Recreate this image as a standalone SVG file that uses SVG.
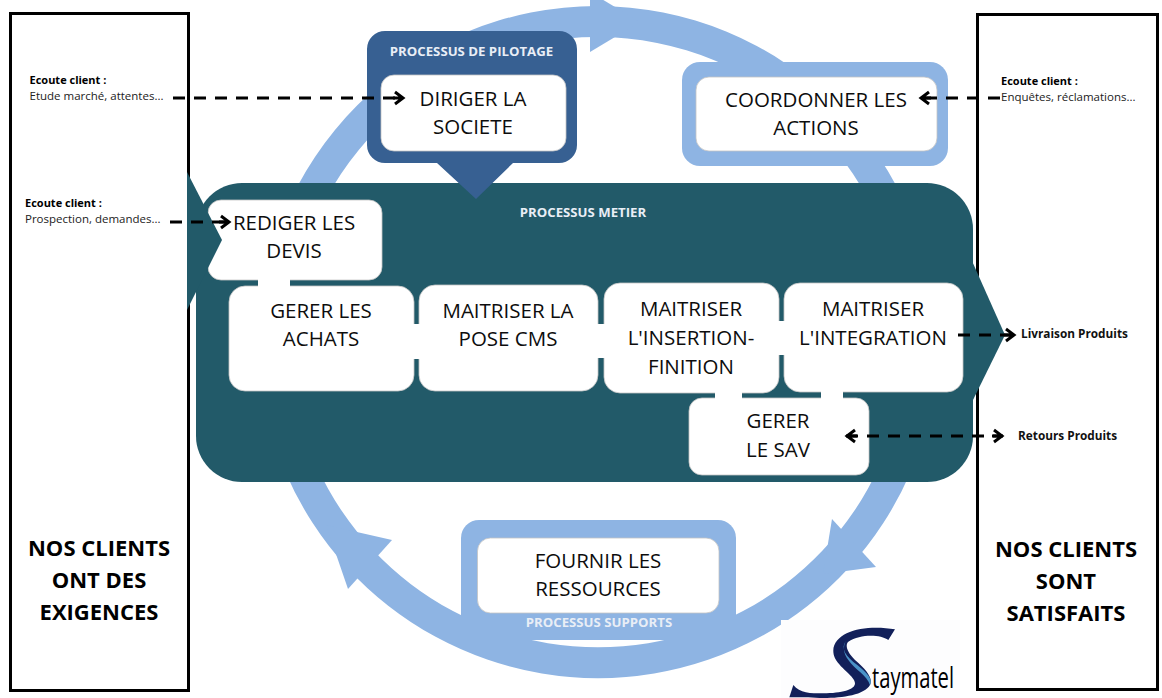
<svg xmlns="http://www.w3.org/2000/svg" width="1162" height="698" viewBox="0 0 1162 698">
<style>
text{font-family:"Open Sans","Noto Sans","Liberation Sans",sans-serif;fill:#000}
.n{font-size:20.5px;text-anchor:middle;fill:#0d0d0d}
.h{font-size:22px;font-weight:700;text-anchor:middle}
.w{font-size:13.2px;font-weight:700;text-anchor:middle;fill:#e9eef6}
.b{font-size:11px;font-weight:700}
.s{font-size:11.5px;fill:#222}
.o{font-size:11.8px;font-weight:700;fill:#111}
.ring{fill:#8eb4e3}
.teal{fill:#225a69}
.wb{fill:#fff;stroke:#c4c4c4;stroke-width:.8}
.side{fill:#fff;stroke:#000;stroke-width:3}
.d{fill:none;stroke:#000;stroke-width:3;stroke-dasharray:12 9;marker-end:url(#a)}
</style>
<defs>
<marker id="a" markerUnits="userSpaceOnUse" markerWidth="16" markerHeight="18" refX="13" refY="9" orient="auto-start-reverse">
<path d="M4,3 L12,9 L4,15 M2,9 H12" fill="none" stroke="#000" stroke-width="3"/>
</marker>
</defs>
<g id="cycle">
<path class="ring" d="M258,345 A339,339 0 0 1 936,345 L905,345 A308,308 0 0 0 289,345 Z"/>
<path class="ring" d="M268,420 A340,340 0 0 0 928,420 L896,420 A309,309 0 0 1 300,420 Z"/>
<polygon class="ring" points="590,-8 640,22 590,52"/>
<polygon class="ring" points="392,540 326,525 348,589"/>
<polygon class="ring" points="832,519 876,567 823,574"/>
</g>
<g id="clients-exigences">
<rect class="side" x="10.500" y="13.500" width="178" height="677"/>
<text class="h" x="99" y="556">NOS CLIENTS</text>
<text class="h" x="99" y="588">ONT DES</text>
<text class="h" x="99" y="620">EXIGENCES</text>
<text class="b" x="29.500" y="84">Ecoute client :</text>
<text class="s" x="29.500" y="100">Etude marché, attentes...</text>
<text class="b" x="25" y="207">Ecoute client :</text>
<text class="s" x="25" y="223">Prospection, demandes...</text>
</g>
<g id="clients-satisfaits">
<rect class="side" x="977.500" y="14.500" width="180" height="675"/>
<text class="h" x="1066" y="557">NOS CLIENTS</text>
<text class="h" x="1066" y="589">SONT</text>
<text class="h" x="1066" y="621">SATISFAITS</text>
<text class="b" x="1001" y="85">Ecoute client :</text>
<text class="s" x="1001" y="101">Enquêtes, réclamations...</text>
<text class="o" x="1021" y="338">Livraison Produits</text>
<text class="o" x="1018" y="440">Retours Produits</text>
</g>
<g id="processus-metier">
<rect class="teal" x="196" y="183" width="777" height="299" rx="46"/>
<polygon class="teal" points="972,261 1005,335 972,402"/>
<text class="w" x="583" y="217">PROCESSUS METIER</text>
</g>
<g id="pilotage">
<path d="M385,31 H559 A18,18 0 0 1 577,49 V145 A18,18 0 0 1 559,163 H513 L476,199 L437,163 H385 A18,18 0 0 1 367,145 V49 A18,18 0 0 1 385,31 Z" fill="#376092"/>
<text class="w" x="471.500" y="56">PROCESSUS DE PILOTAGE</text>
<rect class="wb" x="381" y="75" width="185" height="76" rx="13"/>
<text class="n" x="473" y="106">DIRIGER LA</text>
<text class="n" x="473" y="134">SOCIETE</text>
</g>
<g id="coordonner">
<rect class="ring" x="682" y="62" width="266" height="104" rx="18"/>
<rect class="wb" x="696" y="77" width="241" height="74" rx="13"/>
<text class="n" x="816" y="107">COORDONNER LES</text>
<text class="n" x="816" y="135">ACTIONS</text>
</g>
<g id="supports">
<path class="ring" d="M461,640 V538 A18,18 0 0 1 479,520 H718 A18,18 0 0 1 736,538 V640 Z"/>
<rect class="wb" x="477.500" y="538" width="241.500" height="75" rx="13"/>
<text class="n" x="598" y="568">FOURNIR LES</text>
<text class="n" x="598" y="596">RESSOURCES</text>
<text class="w" x="599" y="627">PROCESSUS SUPPORTS</text>
</g>
<g id="devis">
<rect class="wb" x="208" y="200" width="174" height="80" rx="13"/>
<polygon class="teal" points="187,172 222,240 187,310"/>
<text class="n" x="294" y="230">REDIGER LES</text>
<text class="n" x="294" y="258">DEVIS</text>
</g>
<g id="achats">
<rect class="wb" x="229" y="286" width="185" height="105" rx="16"/>
<rect x="258" y="279" width="32" height="9" fill="#fff"/>
<rect x="413" y="324" width="7" height="35" fill="#fff"/>
<text class="n" x="321" y="318">GERER LES</text>
<text class="n" x="321" y="346">ACHATS</text>
</g>
<g id="pose">
<rect class="wb" x="419" y="285" width="179" height="106" rx="16"/>
<rect x="413" y="324" width="7" height="35" fill="#fff"/>
<rect x="597" y="324" width="8" height="34" fill="#fff"/>
<text class="n" x="508" y="318">MAITRISER LA</text>
<text class="n" x="508" y="346">POSE CMS</text>
</g>
<g id="insertion">
<rect class="wb" x="604" y="283" width="175" height="110" rx="16"/>
<rect x="597" y="324" width="8" height="34" fill="#fff"/>
<text class="n" x="691" y="316">MAITRISER</text>
<text class="n" x="691" y="345">L'INSERTION-</text>
<text class="n" x="691" y="374">FINITION</text>
</g>
<g id="integration">
<rect class="wb" x="784" y="283" width="179" height="109" rx="16"/>
<rect x="778" y="321" width="7" height="34" fill="#fff"/>
<text class="n" x="873" y="316">MAITRISER</text>
<text class="n" x="873" y="345">L'INTEGRATION</text>
</g>
<g id="sav">
<rect class="wb" x="689" y="398" width="180" height="77" rx="13"/>
<rect x="715" y="392" width="27" height="8" fill="#fff"/>
<rect x="821" y="391" width="22" height="9" fill="#fff"/>
<text class="n" x="778" y="428">GERER</text>
<text class="n" x="778" y="457">LE SAV</text>
</g>
<g id="connectors">
<path class="d" d="M173,98 H404"/>
<path class="d" d="M1000,98 H920"/>
<path class="d" d="M170,222 H230"/>
<path class="d" d="M958,335 H1015"/>
<path class="d" style="marker-start:url(#a)" d="M846,436 H1003"/>
</g>
<g id="logo">
<rect x="781" y="620" width="179" height="78" fill="#fdfdfe"/>
<g transform="translate(780,610) scale(.3333)">
<path fill="#12205a" d="M345,58 L325,90 C300,72 240,72 205,95 C195,105 200,125 225,150 C260,180 280,205 270,225 C250,262 150,268 85,262 L28,262 L40,225 C60,250 90,250 130,250 C185,250 225,240 225,220 C225,200 185,180 165,145 C150,110 170,85 200,70 C240,50 300,50 345,58 Z"/>
<path fill="#4a93c8" d="M198,92 C180,115 198,140 232,165 C262,190 280,208 270,226 C262,195 225,180 205,150 C190,130 188,110 198,92 Z"/>
</g>
<text x="872" y="688" font-family="Liberation Sans" font-size="30" fill="#1a2a5c" textLength="82" lengthAdjust="spacingAndGlyphs">taymatel</text>
</g>
</svg>
